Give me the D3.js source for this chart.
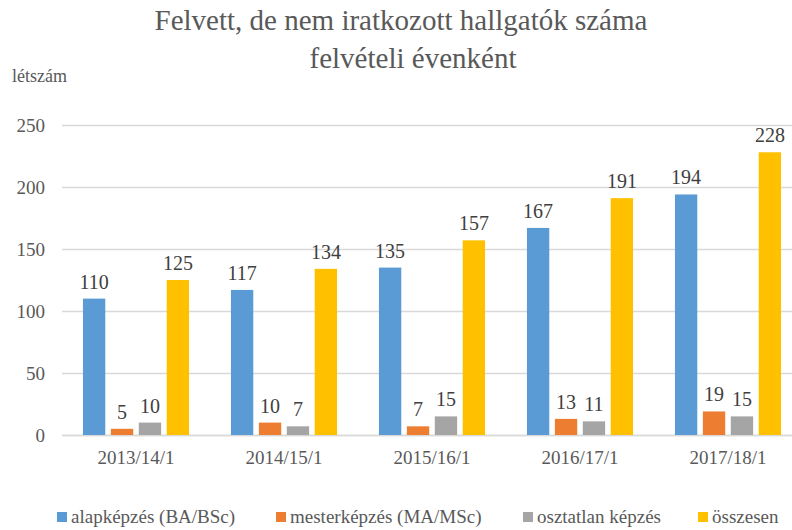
<!DOCTYPE html>
<html><head><meta charset="utf-8">
<script src="https://cdn.jsdelivr.net/npm/d3@7"></script>
<style>body{margin:0;background:#fff}svg{display:block}svg text, svg, text{font-family:"Liberation Serif","Times New Roman",Tinos,serif !important}</style>
</head><body><svg id="c" width="792" height="530" font-family="Liberation Serif"></svg>
<script>
const categories = ["2013/14/1","2014/15/1","2015/16/1","2016/17/1","2017/18/1"];
const seriesNames = ["alapképzés (BA/BSc)","mesterképzés (MA/MSc)","osztatlan képzés","összesen"];
const alap = [110,117,135,167,194];
const mester = [5,10,7,13,19];
const osztatlan = [10,7,15,11,15];
const osszesen = [125,134,157,191,228];
const yTicks = [0,50,100,150,200,250];
const colors = ["#5B9BD5","#ED7D31","#A5A5A5","#FFC000"];
const series = [alap, mester, osztatlan, osszesen];
const FF = "Liberation Serif";

const svg = d3.select("#c");
const pLeft = 62, pRight = 802, pTop = 125, pBottom = 435;
const x = d3.scaleBand().domain(categories).range([pLeft, pRight]);
const xi = d3.scaleBand().domain(d3.range(4)).range([0, x.bandwidth()]).paddingOuter(0.75).paddingInner(0.2);
const y = d3.scaleLinear().domain([0,250]).range([pBottom, pTop]);

function txt(sel){ return sel.attr("font-family", FF).style("font-family", FF, "important"); }

txt(svg.append("text")).attr("x",401).attr("y",30).attr("text-anchor","middle").attr("font-size",29).attr("fill","#595959").text("Felvett, de nem iratkozott hallgatók száma");
txt(svg.append("text")).attr("x",413).attr("y",68).attr("text-anchor","middle").attr("font-size",29).attr("fill","#595959").text("felvételi évenként");
txt(svg.append("text")).attr("x",12).attr("y",82).attr("font-size",18).attr("fill","#595959").text("létszám");

const ya = svg.append("g").attr("transform",`translate(${pLeft},0)`)
  .call(d3.axisLeft(y).tickValues(yTicks).tickSize(-(pRight-pLeft)).tickPadding(17));
ya.attr("font-family", FF);
ya.select(".domain").remove();
ya.selectAll("line").attr("stroke","#d9d9d9").attr("stroke-width",1.3);
txt(ya.selectAll("text")).attr("font-size",19).attr("fill","#595959");

const xa = svg.append("g").attr("transform",`translate(0,${pBottom})`).call(d3.axisBottom(x).tickSize(0).tickPadding(16));
xa.attr("font-family", FF);
xa.select(".domain").attr("stroke","#d9d9d9").attr("stroke-width",1.3);
txt(xa.selectAll("text")).attr("font-size",19).attr("fill","#595959");

series.forEach((vals, si) => {
  const g = svg.append("g");
  g.selectAll("rect").data(vals).join("rect")
    .attr("x",(d,i)=>x(categories[i])+xi(si)).attr("width",xi.bandwidth())
    .attr("y",d=>y(d)).attr("height",d=>pBottom-y(d)).attr("fill",colors[si]);
  txt(g.selectAll("text").data(vals).join("text"))
    .attr("x",(d,i)=>x(categories[i])+xi(si)+xi.bandwidth()/2).attr("y",d=>y(d)-10)
    .attr("text-anchor","middle").attr("font-size",20).attr("fill","#404040").text(d=>d);
});

const legX = [57, 276, 523, 698];
seriesNames.forEach((n,i)=>{
  svg.append("rect").attr("x",legX[i]).attr("y",512).attr("width",10).attr("height",10).attr("fill",colors[i]);
  txt(svg.append("text")).attr("x",legX[i]+14).attr("y",523).attr("font-size",19).attr("fill","#595959").text(n);
});
</script></body></html>
